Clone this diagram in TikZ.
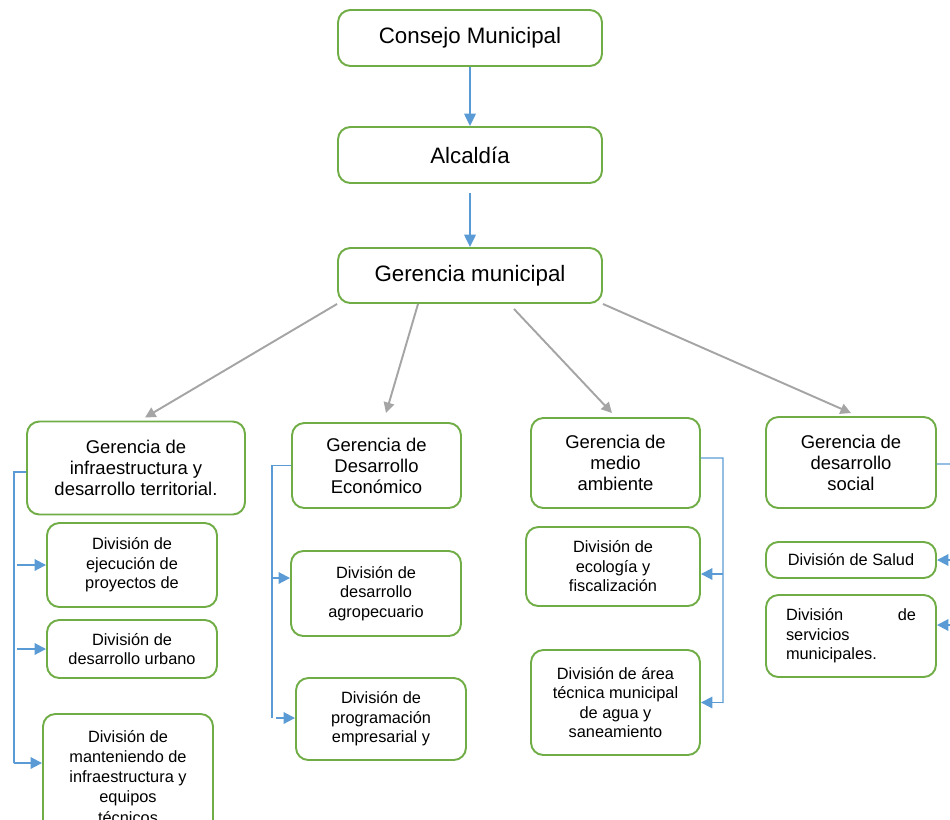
\documentclass[tikz,border=0pt]{standalone}
\usepackage{fontspec}
\setmainfont{Liberation Sans}
\usepackage{tikz}
\usetikzlibrary{arrows.meta}
\usepackage{xcolor}
\definecolor{boxgreen}{HTML}{70AD47}
\definecolor{lineblue}{HTML}{5B9BD5}
\definecolor{linegray}{HTML}{A5A5A5}
\newcommand{\bigtxt}{\fontsize{12.7}{15}\selectfont}
\newcommand{\midtxt}{\fontsize{10.5}{12}\selectfont}
\newcommand{\divtxt}{\fontsize{9.3}{11.1}\selectfont}
\tikzstyle{box} = [draw=boxgreen,line width=1.1pt,rounded corners=7pt,align=center,inner sep=2pt]
\tikzstyle{topbox} = [box,font=\bigtxt,minimum width=5.28cm,minimum height=1.12cm]
\tikzstyle{gerbox} = [box,font=\midtxt,minimum width=3.38cm]
\tikzstyle{divbox} = [box,font=\divtxt,minimum width=3.4cm]
\tikzstyle{arrow} = [lineblue,line width=1.1pt,-{Triangle[length=7pt,width=6.5pt]}]
\tikzstyle{grayarrow} = [linegray,line width=1.1pt,-{Triangle[length=6pt,width=6pt]}]
\tikzstyle{barline} = [lineblue,line width=0.8pt]
\tikzstyle{subarrow} = [lineblue,line width=1.1pt,-{Triangle[length=6.5pt,width=6.5pt]}]

\begin{document}
\begin{tikzpicture}[x=0.02cm,y=-0.02cm]
		\useasboundingbox (0,0) rectangle (950,819);
		\clip (0,0) rectangle (950,819);

		\node[topbox] (consejo) at (470,38) {Consejo Municipal};
		\node[topbox] (alcaldia) at (470,155) {Alcaldía};
		\node[topbox,minimum height=1.1cm] (gerencia) at (470,275.5) {Gerencia municipal};

		\node[gerbox,minimum width=4.36cm,minimum height=1.86cm] (ginfra) at (136,468) {Gerencia de\\infraestructura y\\desarrollo territorial.};
		\node[gerbox,minimum height=1.7cm] (gecon) at (376.5,465.5) {Gerencia de\\Desarrollo\\Económico};
		\node[gerbox,minimum height=1.8cm] (gmedio) at (615.5,463) {Gerencia de\\medio\\ambiente};
		\node[gerbox,minimum width=3.4cm,minimum height=1.82cm] (gsocial) at (851,462.5) {Gerencia de\\desarrollo\\social};

		\node[divbox,minimum height=1.68cm] (dejec) at (132,565) {División de\\ejecución de\\proyectos de};
		\node[divbox,minimum height=1.16cm] (durbano) at (132,649) {División de\\desarrollo urbano};
		\node[divbox,minimum height=2.52cm,font=\fontsize{9.3}{11.4}\selectfont] (dmant) at (128,777) {División de\\manteniendo de\\infraestructura y\\equipos\\técnicos};

		\node[divbox,minimum height=1.7cm] (dagro) at (376,593.5) {División de\\desarrollo\\agropecuario};
		\node[divbox,minimum height=1.64cm] (dprog) at (381,719) {División de\\programación\\empresarial y};

		\node[divbox,minimum width=3.48cm,minimum height=1.58cm] (decol) at (613,566.5) {División de\\ecología y\\fiscalización};
		\node[divbox,minimum width=3.38cm,minimum height=2.1cm] (dagua) at (615.5,702.5) {División de área\\técnica municipal\\de agua y\\saneamiento};

		\node[divbox,minimum height=0.72cm] (dsalud) at (851,560) {División de Salud};
		\node[divbox,minimum height=1.64cm,text width=2.6cm,align=left] (dserv) at (851,636) {División \hfill de\\servicios\\municipales.};

		\draw[arrow] (consejo.south) -- (alcaldia.north);
		\draw[arrow,shorten <=5pt] (alcaldia.south) -- (gerencia.north);

		\draw[grayarrow] (gerencia.south west) -- ([xshift=0.18cm,yshift=0.06cm]ginfra.north);
		\draw[grayarrow] ([xshift=-1.04cm]gerencia.south) -- ([xshift=0.19cm,yshift=0.18cm]gecon.north);
		\draw[grayarrow] ([xshift=0.88cm,yshift=-0.1cm]gerencia.south) -- ([xshift=-0.07cm,yshift=0.08cm]gmedio.north);
		\draw[grayarrow] (gerencia.south east) -- ([yshift=0.06cm]gsocial.north);

		\coordinate (infrabar) at (14,472);
		\draw[barline,line width=1.1pt] ([yshift=-0.08cm]ginfra.west) -- (infrabar) -- (14,763);
		\draw[subarrow] ([xshift=0.06cm]infrabar |- dejec.west) -- (dejec.west);
		\draw[subarrow] ([xshift=0.06cm]infrabar |- durbano.west) -- (durbano.west);
		\draw[subarrow] (14,763) -- (14,763 -| dmant.west);

		\coordinate (econbar) at (272,465.5);
		\draw[barline] (gecon.west) -- (econbar) -- (272,718);
		\draw[subarrow] ([yshift=0.31cm]dagro.west -| econbar) -- ([yshift=0.31cm]dagro.west);
		\draw[subarrow] (276,718) -- (276,718 -| dprog.west);

		\coordinate (mediobar) at (723,458);
		\draw[barline] ([yshift=0.1cm]gmedio.east) -- (mediobar) -- (723,703);
		\draw[subarrow] ([yshift=-0.15cm]decol.east -| mediobar) -- ([yshift=-0.15cm]decol.east);
		\draw[subarrow] (dagua.east -| mediobar) -- (dagua.east);

		\coordinate (socialbar) at (956,464);
		\draw[barline] ([yshift=-0.03cm]gsocial.east) -- (socialbar) -- (956,625);
		\draw[subarrow] (dsalud.east -| socialbar) -- (dsalud.east);
		\draw[subarrow] ([yshift=0.22cm]dserv.east -| socialbar) -- ([yshift=0.22cm]dserv.east);
	\end{tikzpicture}
\end{document}
